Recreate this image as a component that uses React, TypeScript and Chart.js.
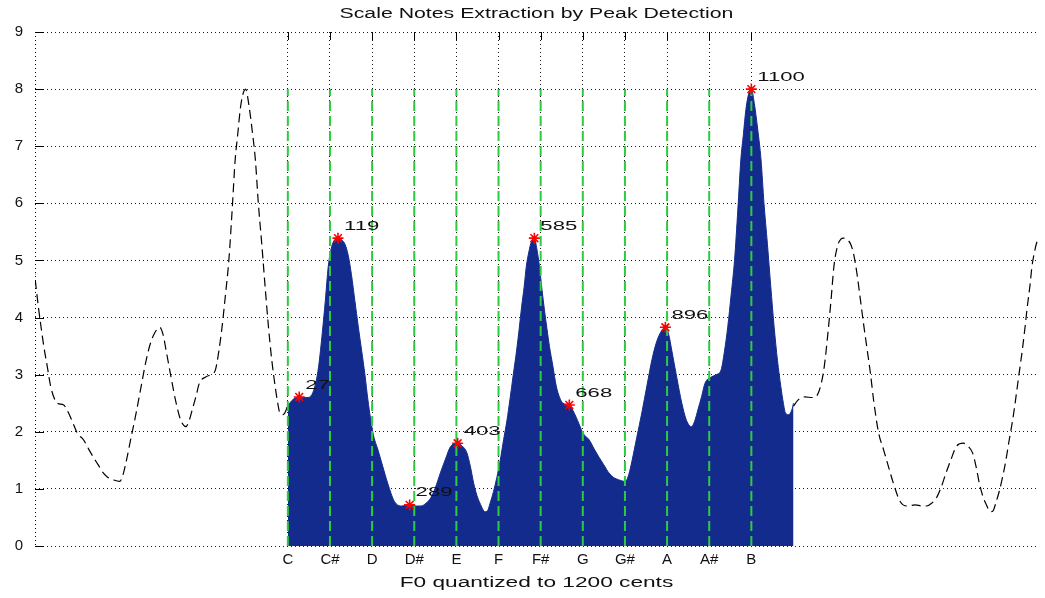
import React, { useEffect, useRef } from "react";
import { Chart, registerables } from "chart.js";

Chart.register(...registerables);

// Note names and their positions within the octave (cents)
const noteNames = ["C", "C#", "D", "D#", "E", "F", "F#", "G", "G#", "A", "A#", "B"];
const noteCents = [0, 100, 200, 300, 400, 500, 600, 700, 800, 900, 1000, 1100];
const guideTop = 8;

// Pitch histogram over one octave (cents -> weight)
const histCents = [
  0, 10, 20, 27, 45, 57, 66, 73, 82, 89, 96, 104, 112, 119, 128, 136, 143, 151, 159, 167,
  175, 183, 190, 202, 214, 225, 237, 253, 270, 289, 305, 316, 328, 339, 350, 362, 374, 386,
  403, 414, 425, 433, 441, 449, 456, 468, 474, 480, 488, 496, 504, 512, 520, 527, 535, 543,
  549, 555, 561, 566, 572, 578, 585, 591, 597, 603, 609, 615, 621, 629, 637, 645, 653, 668,
  676, 684, 692, 700, 715, 727, 738, 750, 762, 773, 785, 801, 809, 817, 828, 840, 852, 864,
  874, 884, 896, 904, 911, 923, 935, 946, 958, 966, 973, 982, 990, 1005, 1017, 1028, 1036,
  1044, 1052, 1060, 1068, 1075, 1081, 1087, 1093, 1100, 1107, 1115, 1123, 1130, 1138, 1146,
  1154, 1162, 1170, 1176, 1181, 1188, 1196, 1200,
];
const histValues = [
  2.45, 2.55, 2.6, 2.61, 2.6, 2.65, 2.85, 3.14, 3.75, 4.3, 4.9, 5.24, 5.37, 5.39, 5.36, 5.28, 5.1, 4.75, 4.3, 3.85,
  3.43, 3.0, 2.56, 1.98, 1.68, 1.4, 1.1, 0.78, 0.7, 0.72, 0.7, 0.7, 0.75, 0.84, 1.02, 1.28, 1.52, 1.74,
  1.8, 1.75, 1.63, 1.4, 1.1, 0.88, 0.75, 0.6, 0.62, 0.75, 0.95, 1.2, 1.5, 1.86, 2.2, 2.56, 3.0, 3.43,
  3.8, 4.2, 4.55, 4.9, 5.15, 5.33, 5.39, 5.2, 4.9, 4.5, 4.13, 3.8, 3.49, 3.15, 2.8, 2.6, 2.5, 2.47,
  2.38, 2.26, 2.12, 1.98, 1.86, 1.7, 1.56, 1.42, 1.28, 1.2, 1.16, 1.13, 1.25, 1.5, 1.9, 2.33, 2.8, 3.26,
  3.55, 3.73, 3.83, 3.7, 3.43, 2.95, 2.5, 2.2, 2.09, 2.2, 2.38, 2.62, 2.85, 2.96, 3.0, 3.08, 3.4,
  3.84, 4.4, 5.0, 5.9, 6.76, 7.2, 7.64, 7.9, 8.0, 7.75, 7.3, 6.76, 6.0, 5.3, 4.55,
  3.84, 3.25, 2.79, 2.5, 2.33, 2.3, 2.38, 2.5,
];

// Detected peaks (cents, weight)
const peakCents = [27, 119, 289, 403, 585, 668, 896, 1100];
const peakValues = [2.61, 5.39, 0.72, 1.8, 5.39, 2.47, 3.83, 8.0];

const yTicks = [0, 1, 2, 3, 4, 5, 6, 7, 8, 9];
const xRange = [-600, 1780];
const octave = 1200;

const titleText = "Scale Notes Extraction by Peak Detection";
const xLabelText = "F0 quantized to 1200 cents";

const FONT = '"Liberation Sans", Arial, Helvetica, sans-serif';
const AREA_BLUE = "#132b8c";
const GUIDE_GREEN = "rgb(44, 204, 66)";

function drawWideText(
  ctx: CanvasRenderingContext2D,
  text: string,
  x: number,
  y: number,
  size: number,
  stretch: number,
  align: "left" | "center"
) {
  ctx.save();
  ctx.font = `${size}px ${FONT}`;
  ctx.fillStyle = "#111";
  ctx.textBaseline = "middle";
  ctx.textAlign = "left";
  const w = ctx.measureText(text).width * stretch;
  const x0 = align === "center" ? x - w / 2 : x;
  ctx.translate(x0, y);
  ctx.scale(stretch, 1);
  ctx.fillText(text, 0, 0);
  ctx.restore();
}

const figurePlugin = {
  id: "figureDecor",
  beforeDatasetsDraw(chart: any) {
    const { ctx, chartArea: a, scales } = chart;
    ctx.save();
    ctx.strokeStyle = "#000";
    ctx.lineWidth = 1;
    // dotted left axis
    ctx.setLineDash([1, 3]);
    ctx.beginPath();
    ctx.moveTo(a.left + 0.5, a.top);
    ctx.lineTo(a.left + 0.5, a.bottom);
    ctx.stroke();
    ctx.setLineDash([]);
    // inward tick marks
    ctx.beginPath();
    yTicks.forEach((v) => {
      const py = Math.round(scales.y.getPixelForValue(v)) + 0.5;
      ctx.moveTo(a.left, py);
      ctx.lineTo(a.left + 9, py);
    });
    noteCents.forEach((c) => {
      const px = Math.round(scales.x.getPixelForValue(c)) + 0.5;
      ctx.moveTo(px, a.top);
      ctx.lineTo(px, a.top + 8);
    });
    ctx.stroke();
    ctx.restore();
  },
  afterDatasetsDraw(chart: any) {
    const { ctx, scales } = chart;
    peakCents.forEach((c, i) => {
      const px = scales.x.getPixelForValue(c);
      const py = scales.y.getPixelForValue(peakValues[i]);
      drawWideText(ctx, String(c), px + 6, py - 12, 13, 1.7, "left");
    });
  },
  afterDraw(chart: any) {
    const { ctx, chartArea: a } = chart;
    const cx = (a.left + a.right) / 2;
    drawWideText(ctx, titleText, cx, 14, 14, 1.52, "center");
    drawWideText(ctx, xLabelText, cx, 583, 14, 1.62, "center");
  },
};

export default function App() {
  const canvasRef = useRef<HTMLCanvasElement | null>(null);

  useEffect(() => {
    if (!canvasRef.current) return;

    const octavePts = histCents.map((c, i) => ({ x: c, y: histValues[i] }));
    const leftCopy = histCents
      .map((c, i) => ({ x: c - octave, y: histValues[i] }))
      .filter((p) => p.x >= xRange[0] - 60);
    const rightCopy = histCents
      .map((c, i) => ({ x: c + octave, y: histValues[i] }))
      .filter((p) => p.x <= xRange[1] + 60);

    const guides = noteCents.map((c) => ({
      type: "line" as const,
      data: [
        { x: c, y: 0 },
        { x: c, y: guideTop },
      ],
      borderColor: GUIDE_GREEN,
      borderWidth: 2,
      borderDash: [10, 5],
      pointRadius: 0,
      fill: false,
      order: 1,
    }));

    const chart = new Chart(canvasRef.current, {
      type: "line",
      data: {
        datasets: [
          {
            data: peakCents.map((c, i) => ({ x: c, y: peakValues[i] })),
            showLine: false,
            pointStyle: "star",
            pointRadius: 5.5,
            pointBorderWidth: 1.6,
            pointBorderColor: "rgb(255,0,0)",
            pointBackgroundColor: "rgb(255,0,0)",
            order: 0,
          },
          ...guides,
          {
            data: leftCopy,
            borderColor: "#000",
            borderWidth: 1.2,
            borderDash: [9, 5],
            pointRadius: 0,
            fill: false,
            cubicInterpolationMode: "monotone",
            order: 2,
          },
          {
            data: rightCopy,
            borderColor: "#000",
            borderWidth: 1.2,
            borderDash: [9, 5],
            pointRadius: 0,
            fill: false,
            cubicInterpolationMode: "monotone",
            order: 2,
          },
          {
            data: octavePts,
            borderColor: AREA_BLUE,
            backgroundColor: AREA_BLUE,
            borderWidth: 1,
            pointRadius: 0,
            fill: "origin",
            cubicInterpolationMode: "monotone",
            order: 3,
          },
        ],
      },
      options: {
        animation: false,
        responsive: true,
        maintainAspectRatio: false,
        devicePixelRatio: 1,
        layout: { padding: { top: 32, right: 0, bottom: 0, left: 0 } },
        plugins: {
          legend: { display: false },
          tooltip: { enabled: false },
          title: { display: false },
        },
        scales: {
          x: {
            type: "linear",
            min: xRange[0],
            max: xRange[1],
            afterBuildTicks: (scale: any) => {
              scale.ticks = noteCents.map((v) => ({ value: v }));
            },
            afterFit: (scale: any) => {
              scale.height = 52;
            },
            ticks: {
              autoSkip: false,
              maxRotation: 0,
              padding: 5,
              color: "#111",
              font: { family: FONT, size: 15 },
              callback: (value: any) => {
                const idx = noteCents.indexOf(Number(value));
                return idx >= 0 ? noteNames[idx] : "";
              },
            },
            grid: {
              color: "rgba(0,0,0,0.9)",
              lineWidth: 1,
              drawTicks: false,
            },
            border: { display: false, dash: [1, 3] },
          },
          y: {
            type: "linear",
            min: 0,
            max: 9,
            afterBuildTicks: (scale: any) => {
              scale.ticks = yTicks.map((v) => ({ value: v }));
            },
            afterFit: (scale: any) => {
              scale.width = 35;
            },
            ticks: {
              padding: 12,
              color: "#111",
              font: { family: FONT, size: 15 },
            },
            grid: {
              color: "rgba(0,0,0,0.9)",
              lineWidth: 1,
              drawTicks: false,
            },
            border: { display: false, dash: [1, 3] },
          },
        },
      },
      plugins: [figurePlugin],
    });

    return () => chart.destroy();
  }, []);

  return (
    <div
      style={{
        position: "absolute",
        left: 0,
        top: 0,
        width: 1045,
        height: 598,
        background: "#fff",
      }}
    >
      <canvas ref={canvasRef} />
    </div>
  );
}
